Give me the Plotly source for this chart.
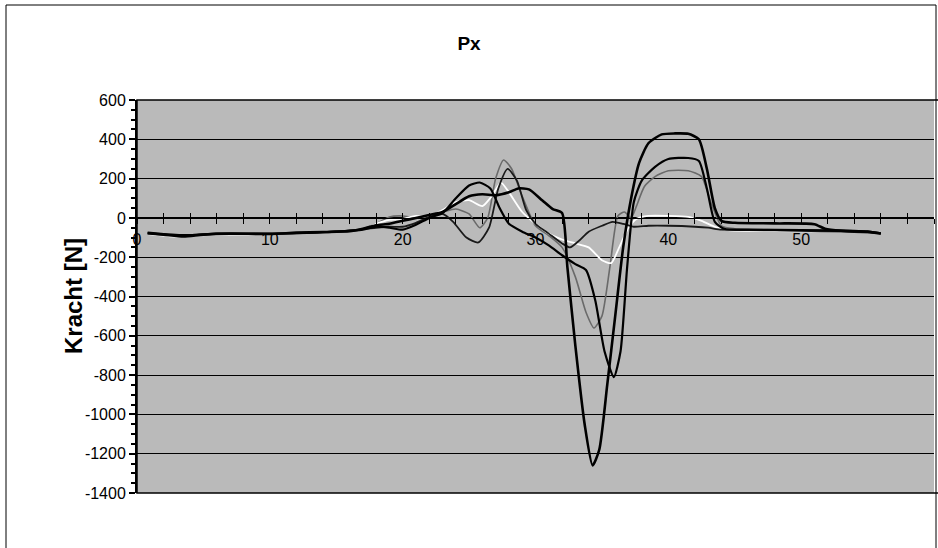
import plotly.graph_objects as go

# Px force curves
s1_x = [0.8, 2, 3.5, 5, 7, 10, 12, 14, 16, 17, 18, 19, 20, 21, 22, 23, 24, 25, 26, 27,
        28, 28.7, 29.5, 30.5, 31.3, 32.0, 32.4, 33.0, 33.7, 34.3, 34.8, 35.4, 36.0, 36.6, 37.2,
        37.8, 38.5, 39.5, 40.5, 41.5, 42.3, 42.9, 43.5, 44.0, 45, 48, 51, 51.8, 53, 55, 56]
s1_y = [-78, -85, -95, -85, -80, -82, -75, -72, -68, -55, -38, -30, -15, 0, 15, 30, 70, 110, 120, 115,
        130, 150, 145, 90, 45, 25, -250, -650, -1050, -1260, -1180, -850, -500, -150, 100,
        280, 380, 425, 430, 428, 400, 250, 50, -15, -25, -28, -32, -55, -65, -70, -80]

s2_x = [0.8, 2, 4, 6, 9, 12, 15, 17, 18, 19, 20, 21, 22, 23, 24, 25, 25.8, 26.6, 27.3, 28,
        29, 30, 31, 32, 33, 33.8, 34.5, 35.2, 35.9, 36.4, 36.9, 37.4, 38, 39, 40, 41.5, 42.3,
        42.9, 43.5, 44.2, 46, 50, 53, 55, 56]
s2_y = [-75, -82, -88, -80, -80, -78, -70, -60, -45, -50, -60, -35, 0, 25, 100, 165, 180, 150, 50, -30,
        -70, -100, -140, -190, -235, -265, -420, -680, -810, -680, -250, 80, 190, 260, 300, 305, 290,
        150, -20, -55, -60, -62, -66, -70, -78]

s3_x = [0.8, 3, 6, 10, 14, 17, 18, 19, 20, 21, 22, 23, 24, 25, 25.8, 26.4, 27, 27.6, 28.2, 29,
        30, 31, 32, 33, 33.8, 34.4, 35.0, 35.6, 36.2, 36.7, 37.2, 37.6, 38.2, 39, 40, 41.5, 42.5,
        43.2, 44, 45, 48, 52, 55]
s3_y = [-80, -90, -82, -80, -72, -55, -30, 5, 10, 0, 15, 30, 45, 20, -50, 0, 200, 295, 250, 110,
        -40, -90, -150, -300, -480, -560, -500, -250, 10, 30, 0, 60, 160, 210, 240, 240, 210,
        80, -40, -55, -60, -62, -70]

s4_x = [0.8, 3, 6, 10, 14, 17, 18, 19, 20, 21, 22, 23, 24, 25, 26, 26.7, 27.4, 28, 29, 30,
        31, 32, 33, 34, 35, 35.7, 36.3, 37, 37.6, 38.5, 40, 41.5, 42.5, 43.5, 44.5, 46, 50, 53, 55.5]
s4_y = [-82, -95, -85, -82, -74, -60, -30, -10, -5, 10, 5, 40, 80, 90, 60, 110, 180, 130, 30, -30,
        -80, -110, -130, -150, -215, -230, -150, -50, -5, 10, 10, 5, -15, -45, -62, -66, -68, -70, -75]

s5_x = [0.8, 3, 6, 10, 14, 17, 18, 19, 20, 21, 22, 23, 23.8, 24.8, 25.7, 26.5, 27.2, 27.9, 28.6, 29.3,
        30, 31, 32, 32.6, 33.3, 34, 35, 35.8, 36.6, 37.4, 38.5, 40, 42, 43, 44, 46, 50, 53, 55.5]
s5_y = [-80, -88, -82, -82, -72, -58, -50, -45, -45, -25, 5, 20, -20, -100, -125, -50, 150, 250, 190, 40,
        -30, -80, -130, -150, -115, -70, -40, -20, -30, -45, -40, -40, -45, -50, -60, -62, -66, -70, -76]

y_ticks = [600, 400, 200, 0, -200, -400, -600, -800, -1000, -1200, -1400]
y_labels = ["600", "400", "200", "0", "-200", "-400", "-600", "-800", "-1000", "-1200", "-1400"]
x_ticks = [0, 10, 20, 30, 40, 50, 60]
x_labels = ["0", "10", "20", "30", "40", "50", "60"]

FONT = "Liberation Sans, Arial, sans-serif"

series = [
    (s3_x, s3_y, "#6a6a6a", 1.6),
    (s4_x, s4_y, "#ffffff", 1.8),
    (s5_x, s5_y, "#1a1a1a", 1.8),
    (s2_x, s2_y, "#000000", 2.2),
    (s1_x, s1_y, "#000000", 2.6),
]

fig = go.Figure()
for xs, ys, col, w in series:
    fig.add_trace(go.Scatter(x=xs, y=ys, mode="lines",
                             line=dict(color=col, width=w, shape="spline", smoothing=0.6),
                             showlegend=False, hoverinfo="skip"))
# empty trace so the second (tick-only) x axis gets drawn
fig.add_trace(go.Scatter(x=[], y=[], xaxis="x2", showlegend=False))

fig.update_layout(
    width=938, height=548,
    margin=dict(l=137, r=4, t=100, b=55),
    paper_bgcolor="white",
    plot_bgcolor="#bababa",
    font=dict(family=FONT, size=16, color="black"),
    title=dict(text="<b>Px</b>", x=0.5, xref="container", y=1 - 43 / 548, yref="container",
               xanchor="center", yanchor="middle", font=dict(size=19, family=FONT)),
    xaxis=dict(range=[0, 60], anchor="free", position=0.7, showline=True, linecolor="black",
               linewidth=1, showgrid=False, zeroline=False,
               tickmode="array", tickvals=x_ticks, ticktext=x_labels,
               ticks="outside", ticklen=5, tickcolor="black",
               minor=dict(dtick=2, tick0=0, ticks="outside", ticklen=5, tickcolor="black", showgrid=False),
               tickfont=dict(size=16), ticklabelstandoff=2),
    xaxis2=dict(range=[0, 60], overlaying="x", matches="x", anchor="free", position=0.7, side="bottom",
                showline=False, showgrid=False, zeroline=False, showticklabels=False,
                tickmode="array", tickvals=x_ticks, ticks="inside", ticklen=5, tickcolor="black",
                minor=dict(dtick=2, tick0=0, ticks="inside", ticklen=5, tickcolor="black", showgrid=False)),
    yaxis=dict(range=[-1400, 600], showline=True, linecolor="black", linewidth=2,
               showgrid=True, gridcolor="black", gridwidth=1, zeroline=False,
               tickmode="array", tickvals=y_ticks, ticktext=y_labels,
               ticks="outside", ticklen=6, tickcolor="black", tickwidth=1.5,
               minor=dict(dtick=50, tick0=0, ticks="outside", ticklen=4, tickcolor="black", showgrid=False),
               tickfont=dict(size=16)),
    shapes=[
        dict(type="rect", xref="paper", yref="paper", x0=0, x1=1.01, y0=0, y1=1,
             line=dict(color="black", width=1.5), layer="above"),
        dict(type="rect", xref="paper", yref="paper", x0=(6 - 137) / 797, x1=(936 - 137) / 797,
             y0=-0.3, y1=(493 - 5) / 393, line=dict(color="black", width=1)),
    ],
    annotations=[
        dict(text="<b>Kracht [N]</b>", textangle=-90, x=(58 - 137) / 797, y=0.5,
             xref="paper", yref="paper", showarrow=False, font=dict(size=24, family=FONT)),
    ],
)

# page has a default 8px body margin; drop it so the figure fills the window
fig.write_html("out.html", config={"displayModeBar": False},
               post_script="document.body.style.margin='0';")
